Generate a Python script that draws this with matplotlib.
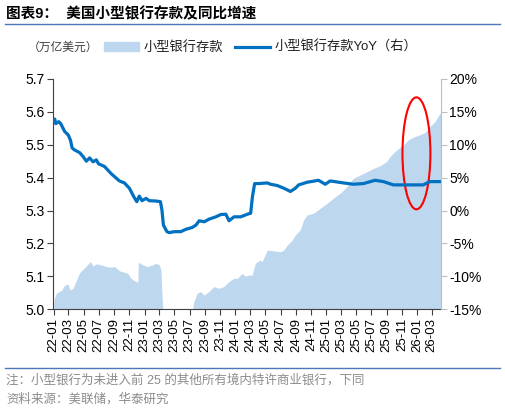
import numpy as np
import pandas as pd
import matplotlib
matplotlib.use("Agg")
import matplotlib.pyplot as plt
import matplotlib.dates as mdates
from matplotlib.patches import Patch, Ellipse
from matplotlib.lines import Line2D

plt.rcParams['font.family'] = ['Liberation Sans', 'Noto Sans CJK SC', 'DejaVu Sans']

# small bank deposits, trillion USD (left axis)
dep_dates = ["2022-01-01", "2022-01-04", "2022-01-12", "2022-02-01", "2022-02-14", "2022-02-28",
             "2022-03-06", "2022-03-20", "2022-04-02", "2022-04-15", "2022-05-03", "2022-05-16",
             "2022-05-28", "2022-06-08", "2022-06-21", "2022-07-11", "2022-07-31", "2022-08-20",
             "2022-09-02", "2022-09-22", "2022-10-06", "2022-10-26", "2022-11-08", "2022-11-28",
             "2022-12-05", "2022-12-07", "2022-12-25", "2023-01-14", "2023-02-03", "2023-02-16",
             "2023-03-02", "2023-03-08", "2023-03-12", "2023-03-16", "2023-05-01", "2023-07-10",
             "2023-07-17", "2023-08-01", "2023-08-15", "2023-08-28", "2023-09-17", "2023-10-07",
             "2023-10-27", "2023-11-16", "2023-12-06", "2023-12-26", "2024-01-09", "2024-01-29",
             "2024-02-11", "2024-02-24", "2024-03-09", "2024-03-22", "2024-04-11", "2024-04-18",
             "2024-05-09", "2024-05-29", "2024-07-01", "2024-07-14", "2024-07-28", "2024-08-17",
             "2024-08-30", "2024-09-18", "2024-10-02", "2024-10-16", "2024-11-11", "2024-12-08",
             "2025-01-04", "2025-02-06", "2025-03-05", "2025-03-25", "2025-04-20", "2025-05-31",
             "2025-07-10", "2025-08-05", "2025-09-01", "2025-09-14", "2025-10-11", "2025-11-07",
             "2025-11-27", "2025-12-17", "2026-01-12", "2026-02-02", "2026-02-22", "2026-03-14",
             "2026-04-07"]
dep_vals = [5.02, 5.035, 5.05, 5.057, 5.074, 5.076,
            5.059, 5.064, 5.089, 5.111, 5.125, 5.135,
            5.145, 5.132, 5.138, 5.135, 5.13, 5.128,
            5.13, 5.117, 5.114, 5.109, 5.094, 5.084,
            5.082, 5.143, 5.135, 5.13, 5.135, 5.14,
            5.135, 5.12, 5.05, 4.99, 4.97, 4.98,
            5.02, 5.049, 5.054, 5.043, 5.054, 5.069,
            5.064, 5.069, 5.084, 5.094, 5.094, 5.109,
            5.101, 5.104, 5.104, 5.14, 5.15, 5.145,
            5.18, 5.178, 5.175, 5.18, 5.195, 5.21,
            5.226, 5.241, 5.272, 5.287, 5.292, 5.307,
            5.322, 5.342, 5.357, 5.373, 5.398, 5.413,
            5.428, 5.436, 5.449, 5.464, 5.484, 5.499,
            5.515, 5.523, 5.53, 5.537, 5.555, 5.57,
            5.60]

# YoY growth, % (right axis)
yoy_dates = ["2022-01-01", "2022-01-05", "2022-01-09", "2022-01-21", "2022-01-29", "2022-02-14",
             "2022-02-28", "2022-03-09", "2022-03-16", "2022-03-26", "2022-04-15", "2022-04-29",
             "2022-05-12", "2022-05-25", "2022-06-08", "2022-06-21", "2022-06-30", "2022-07-24",
             "2022-08-20", "2022-09-22", "2022-10-12", "2022-11-01", "2022-11-19", "2022-12-01",
             "2022-12-11", "2022-12-22", "2023-01-07", "2023-01-20", "2023-02-16", "2023-03-06",
             "2023-03-12", "2023-03-18", "2023-04-01", "2023-04-11", "2023-05-01", "2023-05-27",
             "2023-06-16", "2023-07-13", "2023-07-27", "2023-08-09", "2023-08-29", "2023-09-18",
             "2023-10-15", "2023-11-04", "2023-11-24", "2023-12-07", "2023-12-27", "2024-01-23",
             "2024-02-19", "2024-03-03", "2024-03-10", "2024-03-19", "2024-04-05", "2024-05-09",
             "2024-05-22", "2024-06-18", "2024-07-14", "2024-08-10", "2024-08-30", "2024-09-12",
             "2024-10-16", "2024-12-01", "2024-12-28", "2025-01-17", "2025-03-11", "2025-04-20",
             "2025-05-31", "2025-07-16", "2025-08-19", "2025-09-28", "2025-12-04", "2026-01-26",
             "2026-02-22", "2026-04-07"]
yoy_vals = [13.6, 13.9, 13.2, 13.5, 13.2, 12.0,
            11.5, 10.7, 9.5, 9.2, 8.8, 8.2,
            7.5, 8.0, 7.4, 7.7, 7.1, 6.7,
            5.6, 4.5, 4.2, 3.4, 2.1, 1.35,
            2.2, 1.5, 1.85, 1.5, 1.45, 1.35,
            0.1, -2.2, -3.2, -3.35, -3.2, -3.2,
            -2.85, -2.55, -2.2, -1.55, -1.7, -1.3,
            -0.95, -0.6, -0.55, -1.55, -0.95, -0.95,
            -0.55, -0.4, 2.1, 4.1, 4.1, 4.2,
            4.0, 3.8, 3.4, 2.9, 3.4, 3.9,
            4.3, 4.6, 4.0, 4.5, 4.2, 4.0,
            4.1, 4.6, 4.4, 3.9, 3.9, 3.9,
            4.4, 4.4]

dep_x = pd.to_datetime(dep_dates)
yoy_x = pd.to_datetime(yoy_dates)

fig = plt.figure(figsize=(5.05, 4.13), dpi=100)
ax = fig.add_axes([0.105, 0.251, 0.768, 0.558])
ax2 = ax.twinx()

area_c = '#bdd7ee'
line_c = '#0070c0'

ax.fill_between(dep_x, 4.9, dep_vals, color=area_c, lw=0)
ax2.plot(yoy_x, yoy_vals, color=line_c, lw=2.3)

ax.set_ylim(5.0, 5.7)
ax.set_yticks(np.arange(5.0, 5.71, 0.1))
ax.set_yticklabels([f"{v:.1f}" for v in np.arange(5.0, 5.71, 0.1)], fontsize=10)
ax2.set_ylim(-15, 20)
ax2.set_yticks(np.arange(-15, 21, 5))
ax2.set_yticklabels([f"{v}%" for v in range(-15, 21, 5)], fontsize=10)

ax.set_xlim(pd.Timestamp("2021-12-29"), pd.Timestamp("2026-04-07"))
ax.xaxis.set_major_locator(mdates.MonthLocator(bymonth=[1, 3, 5, 7, 9, 11]))
ax.xaxis.set_major_formatter(mdates.DateFormatter("%y-%m"))
for lab in ax.get_xticklabels():
    lab.set_rotation(90)
    lab.set_fontsize(9.5)

for a in (ax, ax2):
    a.spines['top'].set_visible(False)
ax.spines['right'].set_visible(False)
ax.spines['left'].set_color('#404040')
ax.spines['bottom'].set_color('#404040')
ax2.spines['left'].set_visible(False)
ax2.spines['bottom'].set_visible(False)
ax2.spines['right'].set_color('#bfbfbf')
ax.tick_params(axis='both', length=4, color='#404040', pad=2)
ax2.tick_params(axis='y', length=4, color='#bfbfbf', pad=2)

# red circle highlighting recent months
ax2.add_patch(Ellipse((0.937, 0.677), 0.072, 0.486, transform=ax2.transAxes,
                      fill=False, ec='#ff0000', lw=1.5))

# title and rules
fig.text(0.012, 0.965, "图表9：  美国小型银行存款及同比增速", fontsize=10.5, fontweight='bold',
         va='center', ha='left')
fig.add_artist(Line2D([0.01, 0.99], [0.942, 0.942], color='#4a7ab5', lw=1))
fig.add_artist(Line2D([0.01, 0.99], [0.109, 0.109], color='#4a7ab5', lw=1))

# legend
fig.text(0.055, 0.885, "（万亿美元）", fontsize=8.5, va='center', ha='left', color='#404040')
handles = [Patch(color=area_c, label="小型银行存款"),
           Line2D([], [], color=line_c, lw=2.3, label="小型银行存款YoY（右）")]
fig.legend(handles=handles, loc='center left', bbox_to_anchor=(0.183, 0.885), ncol=2,
           frameon=False, fontsize=9.5, handlelength=2.6, handleheight=0.6,
           columnspacing=0.9, handletextpad=0.4, labelcolor='#202020')

# notes
fig.text(0.012, 0.08, "注：小型银行为未进入前 25 的其他所有境内特许商业银行，下同",
         fontsize=9, color='#8c8c8c', va='center', ha='left')
fig.text(0.012, 0.033, "资料来源：美联储，华泰研究", fontsize=9, color='#8c8c8c',
         va='center', ha='left')

fig.savefig("out.png", dpi=100)
